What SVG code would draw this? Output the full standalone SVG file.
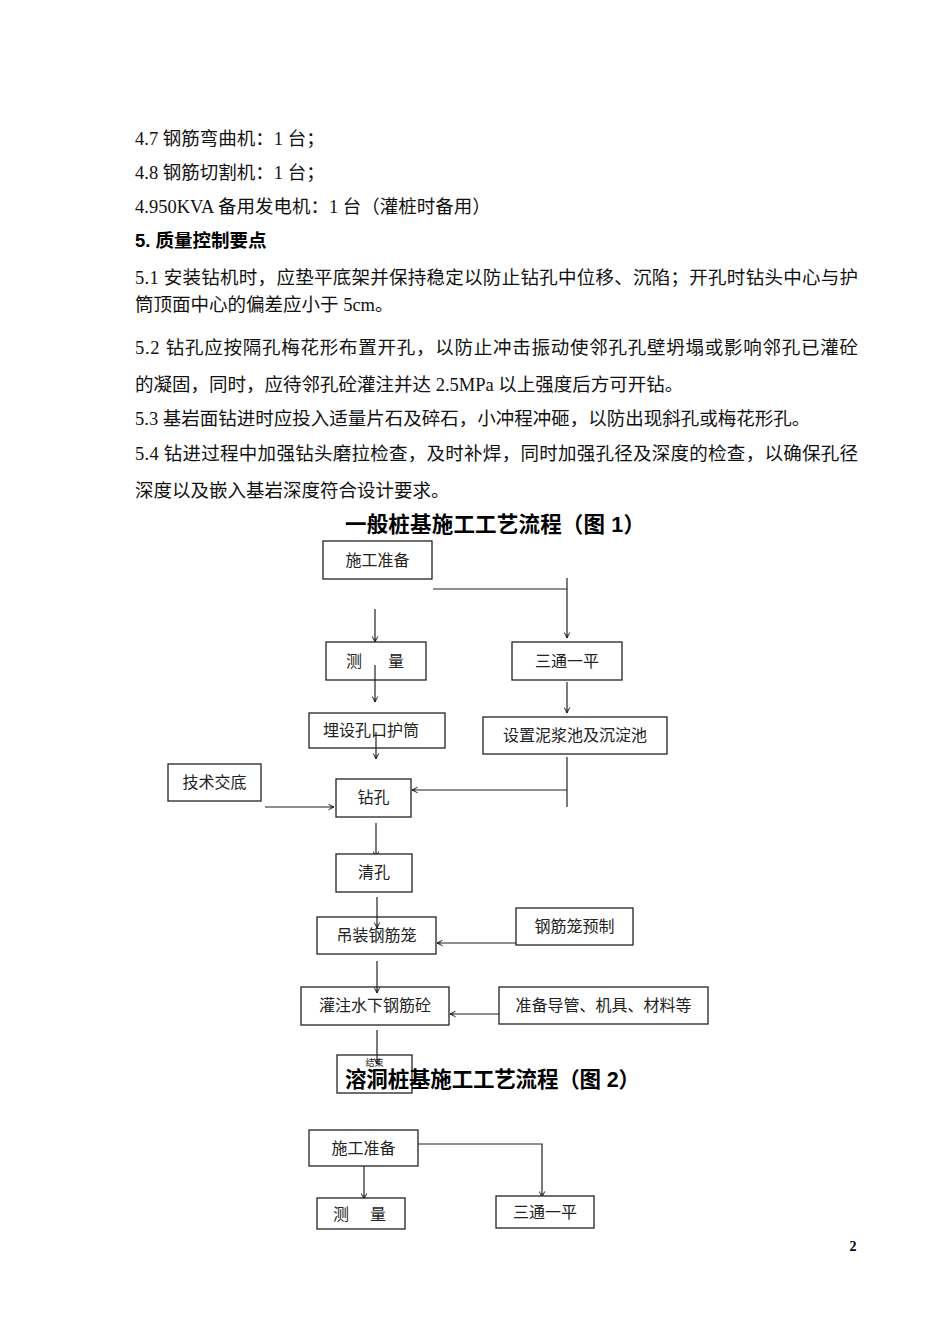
<svg xmlns="http://www.w3.org/2000/svg" width="950" height="1344" viewBox="0 0 950 1344">
<style>
.body{font-family:"Liberation Serif","Noto Sans CJK SC",serif;font-size:18.5px;fill:#111}
.bold{font-family:"Liberation Sans","Noto Sans CJK SC",sans-serif;font-size:18.5px;font-weight:bold;fill:#000}
.title{font-family:"Liberation Sans","Noto Sans CJK SC",sans-serif;font-size:21.5px;font-weight:bold;fill:#000}
.box{fill:#fff;stroke:#222;stroke-width:1.3}
.lbl{font-family:"Liberation Serif","Noto Sans CJK SC",serif;font-size:16px;fill:#222;text-anchor:middle}
.ln{fill:none;stroke:#222;stroke-width:1.2}
.arr{marker-end:url(#ah)}
</style>
<defs>
<marker id="ah" viewBox="0 0 10 10" refX="9" refY="5" markerWidth="7" markerHeight="7" markerUnits="userSpaceOnUse" orient="auto">
<path d="M1,1 L9,5 L1,9 M4,5 L9,5" fill="none" stroke="#222" stroke-width="1.4"/>
</marker>
</defs>
<rect width="950" height="1344" fill="#fff"/>

<g id="text-body">
<text class="body" x="135" y="145">4.7 钢筋弯曲机：1 台；</text>
<text class="body" x="135" y="179">4.8 钢筋切割机：1 台；</text>
<text class="body" x="135" y="213">4.950KVA 备用发电机：1 台（灌桩时备用）</text>
<text class="bold" x="135" y="247">5. 质量控制要点</text>
<text class="body" x="135" y="284" textLength="723" lengthAdjust="spacing">5.1 安装钻机时，应垫平底架并保持稳定以防止钻孔中位移、沉陷；开孔时钻头中心与护</text>
<text class="body" x="135" y="311">筒顶面中心的偏差应小于 5cm。</text>
<text class="body" x="135" y="354" textLength="723" lengthAdjust="spacing">5.2 钻孔应按隔孔梅花形布置开孔，以防止冲击振动使邻孔孔壁坍塌或影响邻孔已灌砼</text>
<text class="body" x="135" y="391">的凝固，同时，应待邻孔砼灌注并达 2.5MPa 以上强度后方可开钻。</text>
<text class="body" x="135" y="425">5.3 基岩面钻进时应投入适量片石及碎石，小冲程冲砸，以防出现斜孔或梅花形孔。</text>
<text class="body" x="135" y="460" textLength="723" lengthAdjust="spacing">5.4 钻进过程中加强钻头磨拉检查，及时补焊，同时加强孔径及深度的检查，以确保孔径</text>
<text class="body" x="135" y="497">深度以及嵌入基岩深度符合设计要求。</text>
</g>

<text id="title1" class="title" x="345" y="532" textLength="300" lengthAdjust="spacing">一般桩基施工工艺流程（图 1）</text>

<g id="connectors">
<path class="ln" d="M433,589 H567"/>
<path class="ln arr" d="M567,578 V638"/>
<path class="ln arr" d="M375,609 V642"/>
<path class="ln arr" d="M375,665 V702"/>
<path class="ln arr" d="M567,682 V713"/>
<path class="ln arr" d="M376,732 V759"/>
<path class="ln" d="M567,757 V807"/>
<path class="ln arr" d="M567,790 H412"/>
<path class="ln arr" d="M265,807 H334"/>
<path class="ln arr" d="M376,823 V857"/>
<path class="ln arr" d="M377,897 V928"/>
<path class="ln arr" d="M516,943 H437"/>
<path class="ln arr" d="M377,961 V993"/>
<path class="ln arr" d="M499,1014 H450"/>
<path class="ln arr" d="M377,1030 V1064"/>
<path class="ln arr" d="M364,1166 V1199"/>
<path class="ln arr" d="M418,1144 H542 V1197"/>
</g>

<g id="n-prep"><rect class="box" x="323" y="541" width="109" height="38"/><text class="lbl" x="377.5" y="566">施工准备</text></g>
<g id="n-survey"><rect class="box" x="326" y="642" width="100" height="38" style="fill:none"/><text class="lbl" x="354" y="667">测</text><text class="lbl" x="396" y="667">量</text></g>
<g id="n-santong"><rect class="box" x="512" y="642" width="110" height="38"/><text class="lbl" x="567" y="667">三通一平</text></g>
<g id="n-casing"><rect class="box" x="309" y="713" width="136" height="35" style="fill:none"/><text class="lbl" x="371" y="736">埋设孔口护筒</text></g>
<g id="n-pool"><rect class="box" x="483" y="717" width="184" height="37"/><text class="lbl" x="575" y="741">设置泥浆池及沉淀池</text></g>
<g id="n-tech"><rect class="box" x="168" y="764" width="93" height="37"/><text class="lbl" x="214.5" y="788">技术交底</text></g>
<g id="n-drill"><rect class="box" x="336" y="779" width="75" height="38"/><text class="lbl" x="373.5" y="803">钻孔</text></g>
<g id="n-clean"><rect class="box" x="336" y="854" width="76" height="38"/><text class="lbl" x="374" y="878">清孔</text></g>
<g id="n-hoist"><rect class="box" x="317" y="917" width="119" height="37" style="fill:none"/><text class="lbl" x="376.5" y="941">吊装钢筋笼</text></g>
<g id="n-prefab"><rect class="box" x="516" y="908" width="117" height="37"/><text class="lbl" x="574.5" y="932">钢筋笼预制</text></g>
<g id="n-pour"><rect class="box" x="301" y="987" width="148" height="38" style="fill:none"/><text class="lbl" x="375" y="1011">灌注水下钢筋砼</text></g>
<g id="n-ready"><rect class="box" x="499" y="987" width="209" height="37"/><text class="lbl" x="603.5" y="1011">准备导管、机具、材料等</text></g>
<g id="n-end"><rect class="box" x="337" y="1055" width="75" height="38" style="fill:none"/><text class="lbl" x="374.5" y="1066" style="font-size:9px">结束</text></g>

<text id="title2" class="title" x="345" y="1087" textLength="295" lengthAdjust="spacing">溶洞桩基施工工艺流程（图 2）</text>

<g id="n2-prep"><rect class="box" x="309" y="1130" width="109" height="36"/><text class="lbl" x="363.5" y="1154">施工准备</text></g>
<g id="n2-survey"><rect class="box" x="317" y="1198" width="88" height="31"/><text class="lbl" x="341" y="1220">测</text><text class="lbl" x="378" y="1220">量</text></g>
<g id="n2-santong"><rect class="box" x="496" y="1196" width="98" height="32"/><text class="lbl" x="545" y="1218">三通一平</text></g>

<text id="page" x="853" y="1251" style="font-family:'Liberation Serif',serif;font-size:14px;font-weight:bold;text-anchor:middle">2</text>
</svg>
